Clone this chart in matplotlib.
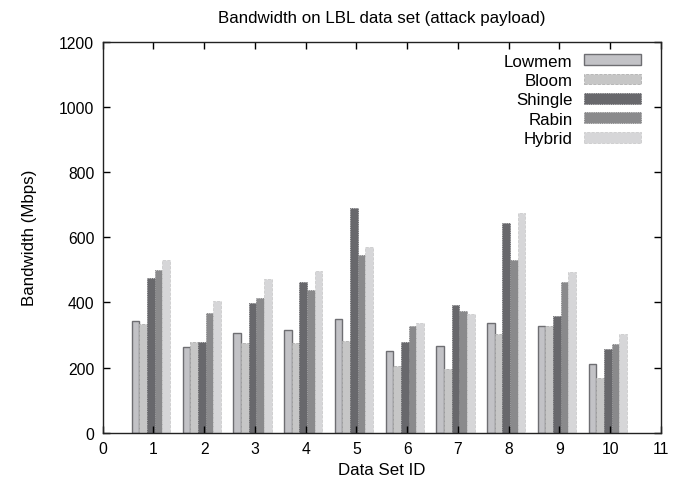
import numpy as np
import matplotlib
matplotlib.use("Agg")
import matplotlib.pyplot as plt

# ---- data ----
data_set_ids = [1, 2, 3, 4, 5, 6, 7, 8, 9, 10]
lowmem = [343, 262, 306, 315, 349, 252, 266, 337, 329, 212]
bloom = [335, 277, 276, 274, 282, 204, 196, 302, 329, 169]
shingle = [476, 279, 399, 463, 691, 279, 393, 644, 357, 258]
rabin = [498, 368, 414, 439, 546, 326, 372, 529, 464, 271]
hybrid = [531, 405, 473, 495, 571, 338, 365, 673, 494, 302]

series_names = ["Lowmem", "Bloom", "Shingle", "Rabin", "Hybrid"]
series_values = [lowmem, bloom, shingle, rabin, hybrid]

# ---- styling ----
face_colors = ["#c2c2c6", "#c6c6c6", "#68686c", "#8a8a8c", "#d6d6d8"]
edge_colors = ["#6e6e72", "#b0b0b0", "#5a5a5e", "#7a7a7c", "#cccccc"]
edge_styles = ["-", "--", ":", ":", "--"]
BAR_W = 0.151
GROUP_SHIFT = -0.05

plt.rcParams["font.family"] = ["Liberation Sans", "DejaVu Sans"]

fig = plt.figure(figsize=(6.85, 4.89), dpi=100)
ax = fig.add_axes([102.7 / 685, 1 - 433.7 / 489, (661 - 102.7) / 685, (433.7 - 42.7) / 489])

x = np.array(data_set_ids, dtype=float)
for k, (name, vals) in enumerate(zip(series_names, series_values)):
    pos = x + GROUP_SHIFT + (k - 2) * BAR_W
    ax.bar(pos, vals, width=BAR_W, color=face_colors[k], edgecolor=edge_colors[k],
           linewidth=1.0 if k == 0 else 0.6, linestyle=edge_styles[k], label=name)

ax.set_xlim(0, 11)
ax.set_ylim(0, 1200)
ax.set_xticks(range(0, 12))
ax.set_yticks(range(0, 1201, 200))
ax.tick_params(direction="in", top=True, right=True, length=5, width=1,
               labelsize=11.3, pad=6)
for sp in ax.spines.values():
    sp.set_linewidth(1.0)
    sp.set_color("#222222")

ax.set_xlabel("Data Set ID", fontsize=12.2, labelpad=4)
ax.set_ylabel("Bandwidth (Mbps)", fontsize=12.2, labelpad=16)
ax.set_title("Bandwidth on LBL data set (attack payload)", fontsize=12.2, pad=14)

leg = ax.legend(loc="upper right", frameon=False, markerfirst=False,
                fontsize=12.2, handlelength=3.4, handleheight=0.6,
                labelspacing=0.26, borderaxespad=0.3, handletextpad=0.65,
                bbox_to_anchor=(0.986, 1.0))
for t in leg.get_texts():
    t.set_ha("right")
leg._legend_box.align = "right"

fig.savefig("out.png", dpi=100)
